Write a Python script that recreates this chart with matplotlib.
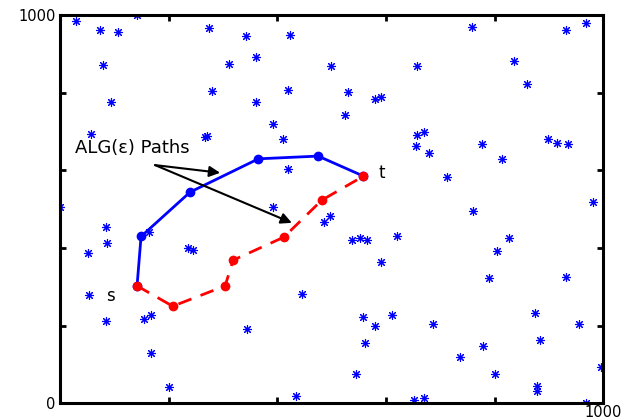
import matplotlib
matplotlib.use('Agg')
import matplotlib.pyplot as plt

# random nodes (blue stars)
node_x = [28.9, 73.7, 106.8, 141.2, 273.8, 342.0, 424.1, 79.2, 311.2, 361.0,
          279.9, 419.3, 94.5, 360.4, 391.7, 411.2, 56.5, 266.5, 271.3, 419.3,
          0.0, 392.8, 757.5, 931.8, 968.1, 498.5, 658.0, 834.8, 860.0, 530.4,
          580.1, 590.6, 525.4, 656.2, 670.3, 655.6, 679.0, 775.9, 813.4, 897.4,
          915.3, 935.0, 712.1, 980.3, 84.7, 87.1, 51.0, 163.3, 236.3, 244.4,
          52.9, 84.7, 155.2, 167.0, 167.0, 201.3, 344.4, 445.1, 434.6, 485.6,
          497.2, 538.3, 553.0, 565.9, 620.1, 590.6, 759.3, 826.9, 804.8, 790.0,
          931.8, 558.0, 610.9, 580.7, 686.4, 562.2, 874.2, 954.5, 884.0, 779.0,
          735.4, 801.1, 544.6, 995.7, 877.9, 877.9, 651.9, 670.3, 968.7]
node_y = [985.3, 960.6, 957.0, 999.2, 965.7, 945.1, 948.4, 871.9, 873.7, 891.0,
          804.1, 807.5, 775.0, 775.0, 718.3, 681.2, 694.1, 684.8, 688.1, 602.3,
          505.2, 505.9, 968.3, 961.3, 978.6, 868.6, 868.6, 882.2, 822.2, 800.8,
          783.5, 787.9, 742.3, 690.7, 699.2, 662.4, 645.1, 668.3, 628.9, 680.4,
          670.9, 667.5, 582.5, 518.0, 452.8, 412.4, 385.8, 440.7, 400.3, 394.3,
          279.1, 213.1, 216.5, 228.6, 128.9, 41.2, 190.7, 282.7, 18.0, 465.7,
          482.0, 419.3, 425.3, 420.9, 429.6, 362.6, 494.1, 424.5, 391.0, 322.9,
          326.5, 223.5, 226.8, 198.5, 204.4, 154.6, 233.8, 204.4, 164.2, 146.9,
          118.6, 76.5, 74.7, 93.6, 45.6, 32.7, 7.7, 14.7, 0.0]

# the two ALG(eps) paths from s to t
blue_x = [141.8, 149.2, 239.4, 365.2, 475.1, 558.6]
blue_y = [302.3, 429.6, 543.8, 629.6, 636.6, 585.0]
red_x = [141.8, 207.5, 303.9, 318.6, 412.0, 482.0, 558.6]
red_y = [302.3, 250.0, 302.3, 368.6, 427.8, 523.2, 585.0]

fig = plt.figure(figsize=(6.27, 4.2), dpi=100)
ax = fig.add_axes([0.0957, 0.0398, 0.8665, 0.9245])

ax.plot(node_x, node_y, linestyle='none', marker=(8, 2, 0), markersize=6.5,
        markeredgewidth=0.8, color='#0000ff')
ax.plot(blue_x, blue_y, '-', color='#0000ff', linewidth=2, marker='o',
        markersize=6)
ax.plot(red_x, red_y, '--', color='#ff0000', linewidth=2, marker='o',
        markersize=6, dashes=(5, 3.5))

ax.text(27.6, 643.6, 'ALG(\u03b5) Paths', fontsize=13, ha='left',
        va='baseline')
ax.annotate('', xy=(294.7, 593.6), xytext=(175.0, 613.4),
            arrowprops=dict(arrowstyle='-|>', color='k', lw=1.5,
                            mutation_scale=16, shrinkA=0, shrinkB=0))
ax.annotate('', xy=(426.7, 464.7), xytext=(175.0, 613.4),
            arrowprops=dict(arrowstyle='-|>', color='k', lw=1.5,
                            mutation_scale=16, shrinkA=0, shrinkB=0))
ax.text(592.4, 592.0, 't', fontsize=12, ha='center', va='center')
ax.text(93.4, 276.5, 's', fontsize=12, ha='center', va='center')

ax.set_xlim(0, 1000)
ax.set_ylim(0, 1000)
ax.set_xticks([0, 200, 400, 600, 800, 1000])
ax.set_xticklabels(['', '', '', '', '', '1000'])
ax.set_yticks([0, 200, 400, 600, 800, 1000])
ax.set_yticklabels(['0', '', '', '', '', '1000'])
ax.tick_params(direction='in', length=4.5, width=2, top=True, right=True,
               labelsize=10.5)
ax.tick_params(axis='y', pad=3)
ax.tick_params(axis='x', pad=1)
for sp in ax.spines.values():
    sp.set_linewidth(2.2)

fig.savefig('out.png', dpi=100)
